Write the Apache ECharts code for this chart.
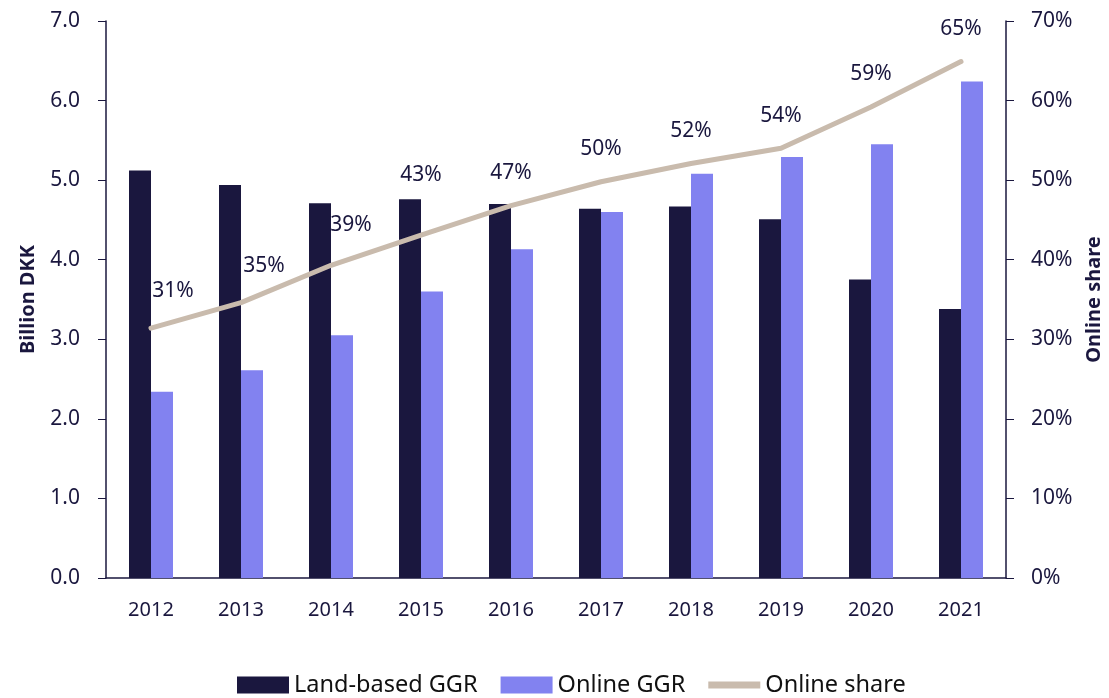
<!DOCTYPE html>
<html>
<head>
<meta charset="utf-8">
<script src="https://cdn.jsdelivr.net/npm/echarts@6/dist/echarts.min.js"></script>
<style>
  html, body { margin: 0; padding: 0; background: #fff; }
  #main { width: 1109px; height: 698px; }
</style>
</head>
<body>
<div id="main"></div>
<script>
// values
var years = ["2012", "2013", "2014", "2015", "2016", "2017", "2018", "2019", "2020", "2021"];
var landBased = [5.12, 4.94, 4.71, 4.76, 4.70, 4.64, 4.67, 4.51, 3.75, 3.38];
var online = [2.34, 2.61, 3.05, 3.60, 4.13, 4.60, 5.08, 5.29, 5.45, 6.24];
var onlineShare = [31.4, 34.6, 39.3, 43.1, 46.8, 49.8, 52.1, 54.0, 59.2, 64.9];

// label nudges (style only), the source chart had hand-placed labels
var labelShift = [[22, -5], [23, -4], [20, -8], [0, -28], [0, 0], [0, 0], [0, 0], [0, 0], [0, 0], [0, 0]];

var navy = "#1a173e";
var beige = "#c9bbad";
var font = "Noto Sans";

var chartDom = document.getElementById("main");
var myChart = echarts.init(chartDom, null, { renderer: "canvas" });

var option = {
  animation: false,
  textStyle: { fontFamily: font, color: navy },
  grid: { left: 106, right: 103, top: 21, bottom: 120, outerBoundsMode: "none", containLabel: false },
  legend: {
    bottom: -4,
    left: 232,
    itemWidth: 52,
    itemHeight: 17,
    itemGap: 23,
    symbolKeepAspect: true,
    textStyle: { fontSize: 23.5, color: "#111", fontFamily: font },
    data: [
      { name: "Land-based GGR", icon: "rect" },
      { name: "Online GGR", icon: "rect" },
      { name: "Online share", icon: "path://M0,0H52V7H0Z", itemStyle: { color: beige } },
    ],
  },
  xAxis: {
    type: "category",
    data: years,
    axisLine: { lineStyle: { color: navy, width: 1.5 } },
    axisTick: { show: false },
    axisLabel: { fontSize: 20, color: navy, margin: 22 },
  },
  yAxis: [
    {
      type: "value",
      min: 0,
      max: 7,
      interval: 1,
      name: "Billion DKK",
      nameLocation: "middle",
      nameGap: 68,
      nameRotate: 90,
      nameTextStyle: { fontSize: 20, fontWeight: "bold", color: navy },
      axisLine: { show: true, lineStyle: { color: navy, width: 1.5 } },
      axisTick: { show: true, length: 8, lineStyle: { color: navy } },
      axisLabel: { fontSize: 21, color: navy, margin: 26, formatter: function (v) { return v.toFixed(1); } },
      splitLine: { show: false },
    },
    {
      type: "value",
      min: 0,
      max: 70,
      interval: 10,
      name: "Online share",
      nameLocation: "middle",
      nameGap: 78,
      nameRotate: 90,
      nameTextStyle: { fontSize: 20, fontWeight: "bold", color: navy },
      axisLine: { show: true, lineStyle: { color: navy, width: 1.5 } },
      axisTick: { show: true, length: 8, lineStyle: { color: navy } },
      axisLabel: { fontSize: 21, color: navy, margin: 25, formatter: "{value}%" },
      splitLine: { show: false },
    },
  ],
  series: [
    {
      name: "Land-based GGR",
      type: "bar",
      data: landBased,
      barWidth: 22,
      barGap: "0%",
      itemStyle: { color: navy },
    },
    {
      name: "Online GGR",
      type: "bar",
      data: online,
      barWidth: 22,
      barGap: "0%",
      itemStyle: { color: "#8282f0" },
    },
    {
      name: "Online share",
      type: "line",
      yAxisIndex: 1,
      symbol: "circle",
      symbolSize: 0,
      showSymbol: true,
      lineStyle: { color: beige, width: 5, cap: "round" },
      itemStyle: { color: beige },
      data: onlineShare.map(function (v, i) {
        return {
          value: v,
          label: { offset: labelShift[i] },
        };
      }),
      label: {
        show: true,
        position: "top",
        distance: 22,
        fontSize: 21,
        color: navy,
        formatter: function (p) { return Math.round(p.value) + "%"; },
      },
    },
  ],
};

option && myChart.setOption(option);
</script>
</body>
</html>
